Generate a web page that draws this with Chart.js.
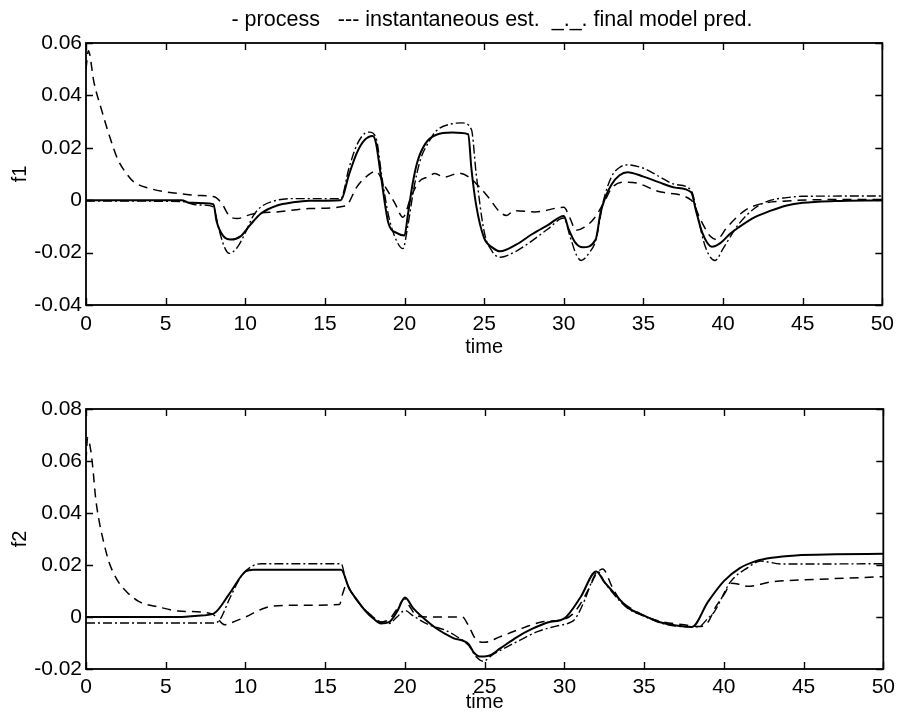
<!DOCTYPE html>
<html>
<head>
<meta charset="utf-8">
<script src="https://cdn.jsdelivr.net/npm/chart.js@4/dist/chart.umd.min.js"></script>
<style>
html, body { margin: 0; padding: 0; background: #fff; }
#wrap { position: relative; width: 901px; height: 718px; }
canvas { position: absolute; left: 0; }
#c1 { top: 0; }
#c2 { top: 360px; }
</style>
</head>
<body>
<div id="wrap">
  <canvas id="c1" width="901" height="360"></canvas>
  <canvas id="c2" width="901" height="358"></canvas>
</div>
<script>
// two stacked panels: f1 and f2 vs time, three series each
const FONT = "'Liberation Sans', Arial, Helvetica, sans-serif";
const HEADER = '- process   --- instantaneous est.  _._. final model pred.';

const xTicks = [0, 5, 10, 15, 20, 25, 30, 35, 40, 45, 50];
const f1Ticks = [-0.04, -0.02, 0, 0.02, 0.04, 0.06];
const f1TickLabels = ['-0.04', '-0.02', '0', '0.02', '0.04', '0.06'];
const f2Ticks = [-0.02, 0, 0.02, 0.04, 0.06, 0.08];
const f2TickLabels = ['-0.02', '0', '0.02', '0.04', '0.06', '0.08'];

// f1 - process (solid)
const f1ProcT = [0, 6, 6.5, 8, 8.2, 8.6, 9.1, 9.7, 10.3, 11, 12, 13, 14, 16, 16.5, 17, 17.5, 18, 18.2, 18.5,
  19, 19.5, 20, 20.2, 20.5, 20.8, 21.3, 22, 23, 24, 24.2, 24.5, 25, 25.5, 26, 27, 28, 29, 30, 30.3,
  30.7, 31.2, 32, 32.3, 32.6, 33, 33.5, 34, 35, 36, 37, 38, 38.3, 38.7, 39.3, 39.8, 40.5, 41, 42, 43,
  44, 45, 47, 50];
const f1ProcY = [0, 0, -0.001, -0.0015, -0.008, -0.0135, -0.015, -0.0138, -0.0095, -0.005, -0.002, -0.0008, -0.0002, 0, 0.0095, 0.018, 0.023, 0.0245, 0.022, 0.01,
  -0.009, -0.0125, -0.0135, -0.006, 0.006, 0.0145, 0.0215, 0.025, 0.0258, 0.0252, 0.012, -0.002, -0.0145, -0.018, -0.0195, -0.017, -0.013, -0.0095, -0.006, -0.011,
  -0.016, -0.018, -0.015, -0.005, 0.001, 0.006, 0.0095, 0.0107, 0.009, 0.0068, 0.0048, 0.003, -0.004, -0.0125, -0.0178, -0.0165, -0.0125, -0.0103, -0.0065, -0.004,
  -0.002, -0.001, -0.0003, 0];

// f1 - instantaneous estimate (dashed)
const f1InstT = [0, 0.15, 0.5, 1, 1.5, 2, 2.5, 3, 4, 5, 6, 7, 8, 8.5, 9, 9.5, 10.3, 11, 12, 14,
  16.3, 17, 17.6, 18.2, 18.8, 19.4, 19.9, 20.4, 20.9, 21.5, 21.9, 22.5, 23.4, 24, 24.6, 25.25, 26, 26.4, 26.9, 28.2,
  30, 30.4, 30.75, 31.3, 31.9, 32.6, 33, 33.8, 34.6, 36.1, 38, 38.6, 39.2, 39.6, 40.25, 41.4, 42.5, 44, 46, 50];
const f1InstY = [0.05, 0.057, 0.045, 0.034, 0.024, 0.0155, 0.0105, 0.007, 0.0045, 0.0032, 0.0024, 0.0018, 0.0014, -0.001, -0.006, -0.007, -0.0055, -0.0048, -0.0045, -0.0032,
  -0.0022, 0.005, 0.009, 0.011, 0.005, -0.0012, -0.0065, 0.0012, 0.007, 0.009, 0.0102, 0.0088, 0.0103, 0.009, 0.0057, 0.0012, -0.0046, -0.0058, -0.004, -0.0045,
  -0.0027, -0.007, -0.0115, -0.0103, -0.007, 0, 0.0046, 0.0069, 0.0065, 0.0031, 0, -0.0076, -0.0138, -0.015, -0.0103, -0.0038, -0.0012, -0.0003, 0.0002, 0.0003];

// f1 - final model prediction (dash-dot)
const f1FinalT = [0, 6, 7, 8, 8.3, 8.7, 9, 9.5, 10, 10.5, 11, 12, 13, 16, 16.5, 17, 17.5, 17.8, 18.2, 18.6,
  19, 19.5, 19.9, 20.2, 20.6, 21, 21.5, 22, 23, 23.6, 24.2, 24.5, 25, 25.5, 26, 27, 28, 29, 30, 30.4,
  30.8, 31.1, 31.6, 32, 32.5, 33, 33.5, 34, 35, 36, 37, 38, 38.4, 38.9, 39.5, 40, 40.5, 41, 42, 43,
  44, 45, 50];
const f1FinalY = [-0.0003, -0.0005, -0.0018, -0.0025, -0.01, -0.018, -0.0203, -0.018, -0.0125, -0.006, -0.0025, 0, 0.0006, 0.0006, 0.012, 0.021, 0.0255, 0.026, 0.024, 0.008,
  -0.006, -0.0155, -0.0185, -0.01, 0.005, 0.0155, 0.022, 0.0265, 0.0292, 0.0295, 0.027, 0.01, -0.012, -0.0195, -0.0218, -0.0195, -0.0155, -0.011, -0.0068, -0.014,
  -0.021, -0.023, -0.02, -0.0155, 0, 0.009, 0.0125, 0.0135, 0.0122, 0.009, 0.006, 0.0038, -0.006, -0.018, -0.023, -0.0185, -0.0135, -0.009, -0.003, 0,
  0.001, 0.0015, 0.0016];

// f2 - process (solid)
const f2ProcT = [0, 6, 7, 8, 9, 10, 10.5, 16, 16.5, 17, 17.5, 18, 18.5, 19, 19.5, 20, 20.5, 21, 22, 23,
  24, 24.3, 24.7, 25.2, 26, 27, 28, 29, 30, 31, 32, 32.5, 33, 33.5, 34, 35, 36, 37, 38, 39,
  40, 41, 42, 43, 44.5, 47, 50];
const f2ProcY = [0, 0, 0.0005, 0.0013, 0.009, 0.0175, 0.0182, 0.0182, 0.011, 0.0065, 0.0025, -0.0005, -0.0025, -0.002, 0.002, 0.0075, 0.0035, 0.0005, -0.0045, -0.008,
  -0.0105, -0.0135, -0.0152, -0.015, -0.012, -0.0078, -0.0045, -0.002, -0.0005, 0.0075, 0.0175, 0.0135, 0.01, 0.0065, 0.0035, 0.0005, -0.002, -0.0033, -0.0038, 0.0058,
  0.0138, 0.0188, 0.0215, 0.0228, 0.0237, 0.0241, 0.0243];

// f2 - instantaneous estimate (dashed)
const f2InstT = [0, 0.1, 0.3, 0.45, 0.6, 0.8, 1.1, 1.45, 2, 2.5, 3.3, 4.6, 5.8, 7.9, 8.3, 8.7, 9.2, 10, 11, 11.7,
  13, 15.9, 16.1, 16.3, 16.7, 17.3, 18, 18.3, 19, 19.5, 20, 20.3, 20.8, 22, 23.6, 24, 24.5, 25, 26, 27.5,
  28.5, 30, 30.5, 31, 31.5, 32, 32.4, 33, 33.5, 34, 35, 36, 37.5, 38.5, 39, 39.5, 40, 40.5, 41, 41.5,
  43, 46, 50];
const f2InstY = [0.06, 0.069, 0.064, 0.056, 0.046, 0.0377, 0.029, 0.021, 0.0138, 0.01, 0.006, 0.0038, 0.0023, 0.0012, -0.001, -0.003, -0.002, 0, 0.003, 0.0042,
  0.0045, 0.0048, 0.009, 0.012, 0.009, 0.004, 0, -0.002, -0.001, 0.003, 0.007, 0.004, 0.0003, 0, 0, -0.0035, -0.009, -0.0097, -0.0075, -0.004,
  -0.002, -0.0008, 0.001, 0.005, 0.0105, 0.0165, 0.0185, 0.0115, 0.0065, 0.004, 0.0005, -0.0017, -0.003, -0.0037, -0.002, 0.004, 0.0085, 0.013, 0.0125, 0.0118,
  0.0135, 0.0145, 0.0155];

// f2 - final model prediction (dash-dot)
const f2FinalT = [0, 8, 8.4, 9, 9.75, 10.4, 11, 16, 16.3, 16.7, 17.3, 18, 18.5, 19, 19.5, 20, 20.5, 21.5, 22.5, 23.2,
  24, 24.5, 24.9, 25.5, 26.4, 27.5, 28.4, 29.5, 30.4, 30.7, 31.3, 31.7, 32.1, 32.5, 33, 33.5, 34, 35, 36, 37,
  38.4, 39, 39.4, 40.4, 41.5, 42.3, 43.6, 46, 50];
const f2FinalY = [-0.0023, -0.0023, -0.001, 0.007, 0.0158, 0.0195, 0.0205, 0.0205, 0.014, 0.009, 0.004, 0, -0.002, -0.0025, 0, 0.0025, 0.0005, -0.003, -0.005, -0.0073,
  -0.011, -0.0155, -0.017, -0.0145, -0.0115, -0.008, -0.0054, -0.0035, -0.002, -0.0005, 0.0069, 0.0134, 0.0175, 0.0135, 0.0095, 0.006, 0.0032, 0.0003, -0.0022, -0.0035,
  -0.0038, -0.0005, 0.002, 0.0134, 0.019, 0.0215, 0.0204, 0.0204, 0.0205];

const pts = (ts, ys) => ts.map((t, i) => ({ x: t, y: ys[i] }));

function series(label, ts, ys, dash, width) {
  return {
    label, data: pts(ts, ys),
    borderColor: '#000', borderWidth: width, borderDash: dash,
    pointRadius: 0, fill: false, cubicInterpolationMode: 'monotone'
  };
}

// box around the plot with inward ticks on all four sides (MATLAB look)
const TICK = 7;
const frame = {
  id: 'frame',
  afterDraw(chart) {
    const { ctx, chartArea: a, scales: { x, y } } = chart;
    ctx.save();
    ctx.strokeStyle = '#000';
    ctx.lineWidth = 1.8;
    ctx.strokeRect(a.left, a.top, a.right - a.left, a.bottom - a.top);
    ctx.lineWidth = 1.4;
    ctx.beginPath();
    x.ticks.forEach(t => {
      const p = Math.round(x.getPixelForValue(t.value)) + 0.5;
      ctx.moveTo(p, a.bottom); ctx.lineTo(p, a.bottom - TICK);
      ctx.moveTo(p, a.top); ctx.lineTo(p, a.top + TICK);
    });
    y.ticks.forEach(t => {
      const p = Math.round(y.getPixelForValue(t.value)) + 0.5;
      ctx.moveTo(a.left, p); ctx.lineTo(a.left + TICK, p);
      ctx.moveTo(a.right, p); ctx.lineTo(a.right - TICK, p);
    });
    ctx.stroke();
    ctx.restore();
  }
};

const header = {
  id: 'header',
  afterDraw(chart) {
    const ctx = chart.ctx;
    ctx.save();
    ctx.fillStyle = '#000';
    ctx.font = '21.5px ' + FONT;
    ctx.textAlign = 'center';
    ctx.textBaseline = 'middle';
    ctx.fillText(HEADER, 492, 20);
    ctx.restore();
  }
};

function makePanel(id, cfg) {
  const ticks = cfg.yTicks, labels = cfg.yLabels;
  return new Chart(document.getElementById(id), {
    type: 'line',
    data: {
      datasets: [
        series('process', cfg.proc[0], cfg.proc[1], [], 2),
        series('instantaneous est.', cfg.inst[0], cfg.inst[1], [9, 6], 1.5),
        series('final model pred.', cfg.fin[0], cfg.fin[1], [9, 3, 2, 3], 1.4)
      ]
    },
    options: {
      responsive: false, animation: false, devicePixelRatio: 1,
      layout: { padding: { top: cfg.top, right: cfg.right, left: 0, bottom: 0 } },
      plugins: { legend: { display: false }, tooltip: { enabled: false }, title: { display: false } },
      scales: {
        x: {
          type: 'linear', min: 0, max: 50,
          afterBuildTicks: s => { s.ticks = xTicks.map(v => ({ value: v })); },
          ticks: { color: '#000', padding: cfg.xPad, maxRotation: 0, font: { size: 21, family: FONT } },
          grid: { display: false, drawTicks: false },
          border: { display: false },
          title: { display: true, text: 'time', color: '#000', font: { size: 20, family: FONT }, padding: { top: 0, bottom: cfg.timePad } },
          afterFit: s => { s.height = cfg.xH; }
        },
        y: {
          type: 'linear', min: ticks[0], max: ticks[ticks.length - 1],
          afterBuildTicks: s => { s.ticks = ticks.map(v => ({ value: v })); },
          ticks: {
            color: '#000', padding: 4, font: { size: 21, family: FONT },
            callback: (v, i) => labels[i]
          },
          grid: { display: false, drawTicks: false },
          border: { display: false },
          title: { display: true, text: cfg.name, color: '#000', font: { size: 20, family: FONT }, padding: { top: 8, bottom: 0 } },
          afterFit: s => { s.width = 86; }
        }
      }
    },
    plugins: cfg.header ? [frame, header] : [frame]
  });
}

makePanel('c1', {
  name: 'f1', yTicks: f1Ticks, yLabels: f1TickLabels,
  proc: [f1ProcT, f1ProcY], inst: [f1InstT, f1InstY], fin: [f1FinalT, f1FinalY],
  top: 43, right: 14, xH: 55, xPad: 7, timePad: 1, header: true
});
makePanel('c2', {
  name: 'f2', yTicks: f2Ticks, yLabels: f2TickLabels,
  proc: [f2ProcT, f2ProcY], inst: [f2InstT, f2InstY], fin: [f2FinalT, f2FinalY],
  top: 49, right: 15, xH: 49, xPad: 6, timePad: 4, header: false
});
</script>
</body>
</html>
